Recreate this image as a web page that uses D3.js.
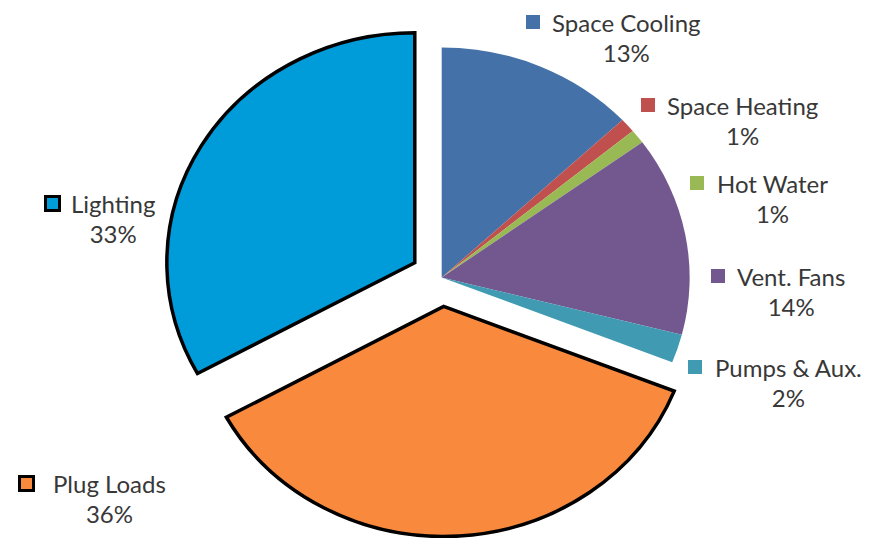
<!DOCTYPE html>
<html>
<head>
<meta charset="utf-8">
<script src="https://cdn.jsdelivr.net/npm/d3@7"></script>
<style>
  html, body { margin: 0; padding: 0; background: #fff; }
  svg { display: block; }
  text { font-family: Lato, "Open Sans", sans-serif; fill: #383838; }
</style>
</head>
<body>
<svg id="chart" width="885" height="538"></svg>
<script>
// End-use categories and their share of energy (percent)
const categories = ["Space Cooling", "Space Heating", "Hot Water", "Vent. Fans", "Pumps & Aux.", "Plug Loads", "Lighting"];
const shares     = [13, 1, 1, 14, 2, 36, 33];
const shareLabels = ["13%", "1%", "1%", "14%", "2%", "36%", "33%"];

// Slice styling
const colors  = ["#4471a8", "#c0504d", "#98b954", "#73578f", "#3f9ab2", "#f98a3d", "#009bd9"];
const outlined = [false, false, false, false, false, true, true];
const explode  = [0, 0, 0, 0, 0, 29, 29];

// Label layout: marker left, text left, first-line baseline
const markerX  = [526, 641, 690, 711, 688, 18, 44];
const textX    = [552, 667, 717, 737, 715, 53, 71];
const baseY    = [32, 115, 193, 286, 377, 493, 213];

const svg = d3.select("#chart");
const cx = 441.7, cy = 277.5, R = 230, sx = 1.078;
const fontSize = 24;

const pie = d3.pie().sort(null).value(d => d.v).startAngle(0).endAngle(2 * Math.PI);
const arc = d3.arc().innerRadius(0).outerRadius(R);
const data = categories.map((c, i) => ({ c, v: shares[i], i }));
const arcs = pie(data);

const slices = svg.append("g").selectAll("g.slice")
  .data(arcs)
  .join("g")
  .attr("class", "slice")
  .attr("transform", d => {
    const mid = (d.startAngle + d.endAngle) / 2;
    const e = explode[d.data.i];
    const dx = Math.sin(mid) * e * sx, dy = -Math.cos(mid) * e;
    return `translate(${cx + dx},${cy + dy}) scale(${sx},1)`;
  });

slices.append("path")
  .attr("d", arc)
  .attr("fill", d => colors[d.data.i])
  .attr("stroke", d => outlined[d.data.i] ? "#000" : "none")
  .attr("stroke-width", 3.5)
  .attr("stroke-linejoin", "miter")
  .attr("vector-effect", "non-scaling-stroke");

// Data labels: legend key, category name, percentage
const labels = svg.append("g").selectAll("g.label")
  .data(categories)
  .join("g")
  .attr("class", "label");

labels.append("rect")
  .attr("x", (d, i) => outlined[i] ? markerX[i] + 1.5 : markerX[i])
  .attr("y", (d, i) => outlined[i] ? baseY[i] - 16.5 : baseY[i] - 17)
  .attr("width", 14)
  .attr("height", 14)
  .attr("fill", (d, i) => colors[i])
  .attr("stroke", (d, i) => outlined[i] ? "#000" : "none")
  .attr("stroke-width", 3);

labels.append("text")
  .attr("class", "name")
  .attr("x", (d, i) => textX[i])
  .attr("y", (d, i) => baseY[i])
  .attr("font-size", fontSize)
  .text(d => d);

labels.each(function (d, i) {
  const g = d3.select(this);
  const w = g.select("text.name").node().getComputedTextLength();
  g.append("text")
    .attr("x", textX[i] + w / 2)
    .attr("y", baseY[i] + 30)
    .attr("text-anchor", "middle")
    .attr("font-size", fontSize)
    .text(shareLabels[i]);
});
</script>
</body>
</html>
